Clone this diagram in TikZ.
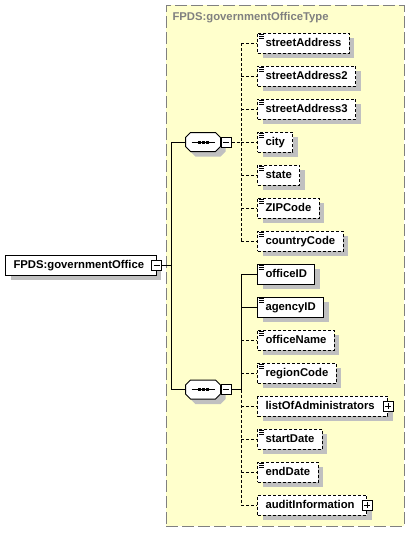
\documentclass[tikz,border=0pt]{standalone}
\usepackage{fontspec}
\setmainfont{Liberation Sans}
\usetikzlibrary{shadows}

\definecolor{typefill}{RGB}{255,255,204}
\definecolor{typeline}{RGB}{128,128,128}
\definecolor{shadegray}{RGB}{192,192,192}

\tikzset{
  boxshadow/.style={drop shadow={shadow xshift=5pt,shadow yshift=-5pt,fill=shadegray,opacity=1}},
  elem/.style={draw,fill=white,boxshadow,anchor=west,minimum height=20pt,inner xsep=8pt,inner ysep=0pt,
    text height=8.1pt,text depth=1.3pt},
  opt/.style={elem,dash pattern=on 3pt off 2pt},
  leafmark/.style={path picture={\foreach \k in {1.5,3.5,5.5}
    \draw[solid,line width=1pt] ([xshift=1.5pt,yshift=-\k pt]path picture bounding box.north west) -- ++(5pt,0pt);}},
  link/.style={dash pattern=on 3pt off 2pt},
  minusbox/.style={draw,solid,fill=white,minimum size=10pt,inner sep=0pt,
    path picture={\draw ([xshift=2pt]path picture bounding box.west) -- ([xshift=-2pt]path picture bounding box.east);}},
  plusbox/.style={draw,solid,fill=white,minimum size=10pt,inner sep=0pt,
    path picture={\draw ([xshift=2pt]path picture bounding box.west) -- ([xshift=-2pt]path picture bounding box.east);
      \draw ([yshift=-2pt]path picture bounding box.north) -- ([yshift=2pt]path picture bounding box.south);}},
  seq/.style={minimum width=34pt,minimum height=18pt,inner sep=0pt}
}

\begin{document}
\begin{tikzpicture}[x=1pt,y=-1pt,line width=1pt,font=\bfseries\fontsize{11.3}{13}\selectfont]
\useasboundingbox (0,0) rectangle (410,533);
% complex type area
\node[draw=typeline,fill=typefill,dash pattern=on 12pt off 4pt,minimum width=238pt,minimum height=521pt,inner sep=0pt]
  (otype) at (285,265.5) {};
\node[text=typeline,anchor=north west,inner sep=0pt] (otitle) at (172,12) {FPDS:governmentOfficeType};
% root element
\node[elem] (gov) at (5,265) {FPDS:governmentOffice\kern4pt};
\node[minusbox] (govm) at (gov.east) {};
\coordinate (trunk) at (171,0);
% sequences
\node[seq] (s1) at (203,142) {};
\node[seq] (s2) at (203,389.5) {};
\foreach \s in {s1,s2} {
  \draw[fill=white,boxshadow] ([xshift=5pt]\s.north west) -- ([xshift=-5pt]\s.north east)
    -- ([yshift=-5pt]\s.north east) -- ([yshift=5pt]\s.south east) -- ([xshift=-5pt]\s.south east)
    -- ([xshift=5pt]\s.south west) -- ([yshift=5pt]\s.south west) -- ([yshift=-5pt]\s.north west) -- cycle;
  \draw ([xshift=6pt]\s.west) -- ([xshift=-6pt]\s.east);
  \foreach \d in {-4,0,4}
    \fill ([xshift=\d pt-1.5pt,yshift=-1.5pt]\s.center) rectangle ([xshift=\d pt+1.5pt,yshift=1.5pt]\s.center);
}
\node[minusbox,anchor=west] (s1m) at (s1.east) {};
\node[minusbox,anchor=west] (s2m) at (s2.east) {};
\coordinate (bus) at (241,0);
% first sequence
\node[opt,leafmark] (sa) at (257,43) {streetAddress};
\node[opt,leafmark] (sa2) at (257,76) {streetAddress2};
\node[opt,leafmark] (sa3) at (257,109) {streetAddress3};
\node[opt,leafmark] (city) at (257,142) {city};
\node[opt,leafmark] (state) at (257,175) {state};
\node[opt,leafmark] (zip) at (257,208) {ZIPCode};
\node[opt,leafmark] (cc) at (257,241) {countryCode};
% second sequence
\node[elem,leafmark] (oid) at (257,274) {officeID};
\node[elem,leafmark] (aid) at (257,307) {agencyID};
\node[opt,leafmark] (oname) at (257,340) {officeName};
\node[opt,leafmark] (rcode) at (257,373) {regionCode};
\node[opt] (admins) at (257,406) {listOfAdministrators\kern5pt};
\node[plusbox] (adminsp) at (admins.east) {};
\node[opt,leafmark] (sdate) at (257,439) {startDate};
\node[opt,leafmark] (edate) at (257,472) {endDate};
\node[opt] (audit) at (257,505) {auditInformation\kern4pt};
\node[plusbox] (auditp) at (audit.east) {};
% connectors
\draw (govm.east) -- (govm.east -| trunk);
\draw (s1.west -| trunk) -- (s2.west -| trunk);
\draw (s1.west -| trunk) -- (s1.west);
\draw (s2.west -| trunk) -- (s2.west);
\draw[link] (s1m.east) -- (s1m.east -| bus);
\draw[link] (sa.west -| bus) -- (cc.west -| bus);
\foreach \n in {sa,sa2,sa3,city,state,zip,cc}
  \draw[link] (\n.west -| bus) -- (\n.west);
\draw (s2m.east) -- (s2m.east -| bus);
\draw (oid.west -| bus) -- (s2m.east -| bus);
\draw[link] (s2m.east -| bus) -- (audit.west -| bus);
\foreach \n in {oid,aid}
  \draw (\n.west -| bus) -- (\n.west);
\foreach \n in {oname,rcode,admins,sdate,edate,audit}
  \draw[link] (\n.west -| bus) -- (\n.west);
\end{tikzpicture}
\end{document}
